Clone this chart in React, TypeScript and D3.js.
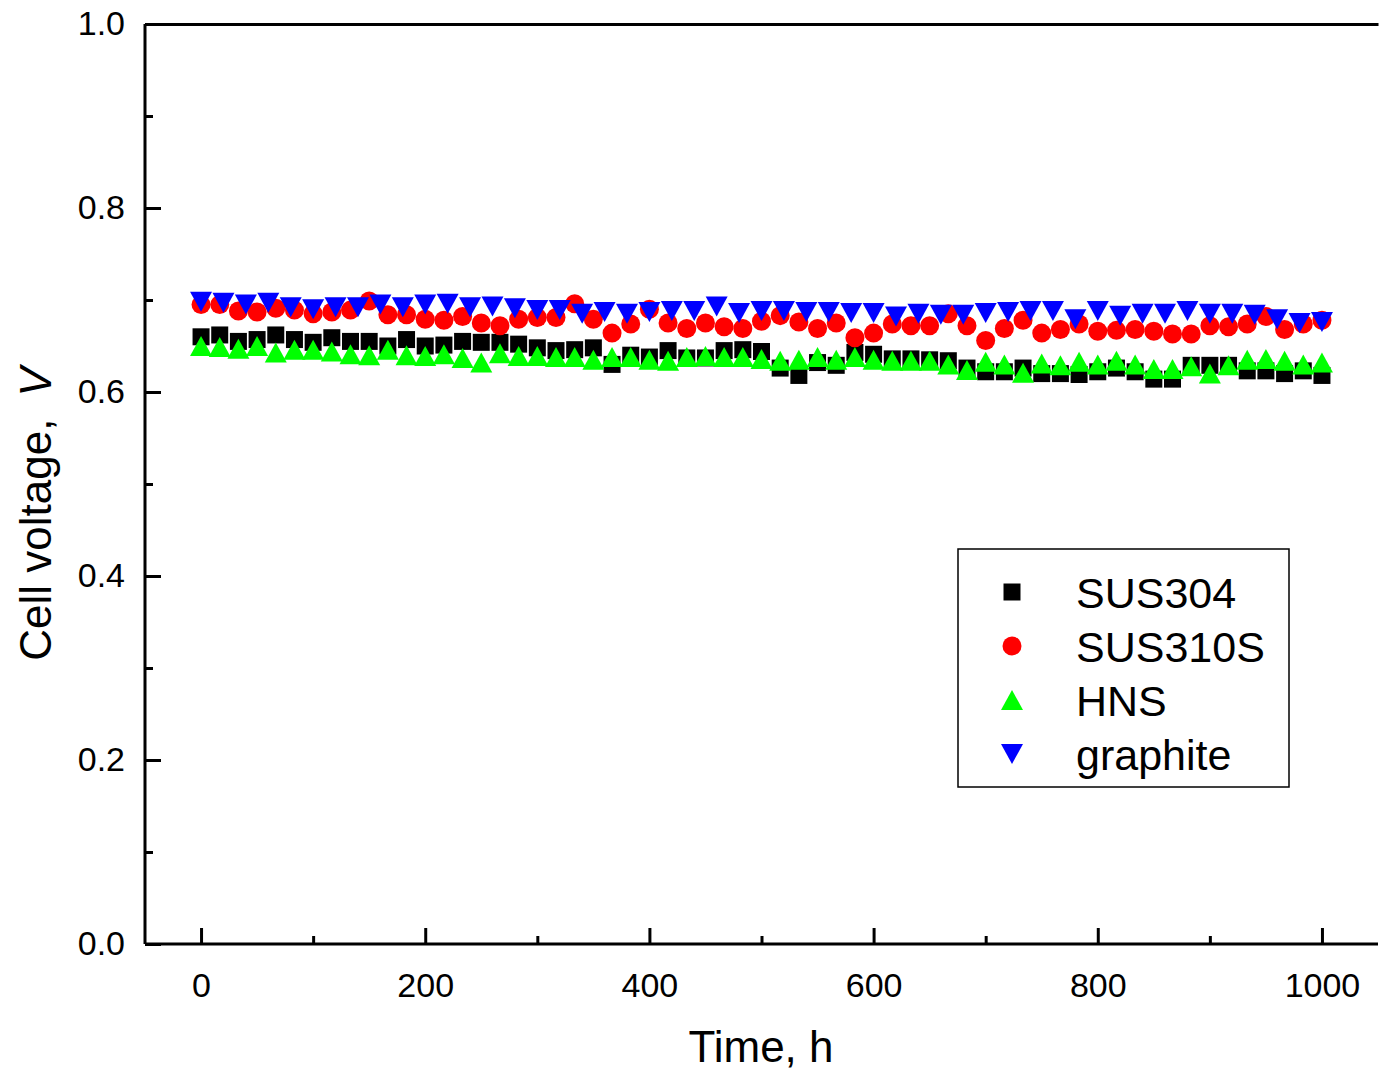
import React, { useEffect, useRef } from "react";
import * as d3 from "d3";

const seriesNames = ["SUS304", "SUS310S", "HNS", "graphite"];
const seriesColors = ["#000000", "#ff0000", "#00ff00", "#0000ff"];

// SUS304, SUS310S, HNS sampled every 1000/60 h; graphite every 20 h
const sus304 = [0.660, 0.662, 0.655, 0.657, 0.662, 0.657, 0.654, 0.659, 0.655, 0.655, 0.650, 0.657, 0.650, 0.651, 0.655, 0.654, 0.654, 0.652, 0.648, 0.645, 0.646, 0.648, 0.630, 0.640, 0.638, 0.645, 0.637, 0.637, 0.645, 0.646, 0.644, 0.626, 0.618, 0.632, 0.629, 0.643, 0.641, 0.636, 0.636, 0.635, 0.634, 0.626, 0.622, 0.622, 0.626, 0.620, 0.620, 0.619, 0.622, 0.626, 0.622, 0.614, 0.614, 0.629, 0.629, 0.629, 0.623, 0.623, 0.620, 0.623, 0.618];
const sus310s = [0.695, 0.695, 0.688, 0.687, 0.691, 0.689, 0.685, 0.687, 0.689, 0.699, 0.684, 0.684, 0.679, 0.678, 0.682, 0.675, 0.672, 0.679, 0.681, 0.681, 0.696, 0.679, 0.664, 0.674, 0.690, 0.675, 0.669, 0.675, 0.671, 0.669, 0.677, 0.683, 0.676, 0.669, 0.675, 0.659, 0.664, 0.674, 0.672, 0.672, 0.685, 0.672, 0.656, 0.669, 0.678, 0.664, 0.668, 0.674, 0.666, 0.667, 0.668, 0.666, 0.663, 0.663, 0.672, 0.671, 0.674, 0.682, 0.668, 0.674, 0.678];
const hns = [0.650, 0.649, 0.647, 0.650, 0.643, 0.646, 0.646, 0.644, 0.641, 0.640, 0.646, 0.640, 0.639, 0.641, 0.637, 0.632, 0.642, 0.639, 0.639, 0.638, 0.638, 0.635, 0.638, 0.638, 0.635, 0.634, 0.638, 0.639, 0.638, 0.638, 0.636, 0.634, 0.635, 0.638, 0.635, 0.638, 0.635, 0.634, 0.634, 0.634, 0.630, 0.624, 0.633, 0.630, 0.621, 0.631, 0.629, 0.633, 0.630, 0.634, 0.630, 0.625, 0.625, 0.628, 0.620, 0.629, 0.635, 0.636, 0.634, 0.630, 0.632];
const graphite = [0.698, 0.697, 0.695, 0.697, 0.692, 0.690, 0.692, 0.692, 0.695, 0.692, 0.695, 0.696, 0.692, 0.693, 0.691, 0.689, 0.689, 0.685, 0.687, 0.685, 0.687, 0.688, 0.688, 0.693, 0.686, 0.688, 0.688, 0.687, 0.687, 0.686, 0.686, 0.682, 0.685, 0.684, 0.684, 0.686, 0.687, 0.688, 0.688, 0.679, 0.688, 0.683, 0.685, 0.685, 0.688, 0.685, 0.685, 0.684, 0.679, 0.675, 0.676];

const timesA = sus304.map((_, i) => (i * 1000) / 60);
const timesB = graphite.map((_, i) => i * 20);

const xTicks = [0, 200, 400, 600, 800, 1000];
const xMinorTicks = [100, 300, 500, 700, 900];
const yTicks = [0, 0.2, 0.4, 0.6, 0.8, 1.0];
const yMinorTicks = [0.1, 0.3, 0.5, 0.7, 0.9];

const FONT = "'Liberation Sans', Arial, sans-serif";

function markerPath(kind: string, cx: number, cy: number): string {
  if (kind === "square") {
    const h = 8.5;
    return `M${cx - h},${cy - h}H${cx + h}V${cy + h}H${cx - h}Z`;
  }
  if (kind === "circle") {
    const r = 9.5;
    return `M${cx - r},${cy}A${r},${r} 0 1,0 ${cx + r},${cy}A${r},${r} 0 1,0 ${cx - r},${cy}Z`;
  }
  const w = 11, h = 10;
  if (kind === "up") {
    return `M${cx},${cy - h}L${cx + w},${cy + h}L${cx - w},${cy + h}Z`;
  }
  return `M${cx},${cy + h}L${cx + w},${cy - h}L${cx - w},${cy - h}Z`;
}

export default function App() {
  const ref = useRef<SVGSVGElement>(null);

  useEffect(() => {
    const svg = d3.select(ref.current);
    svg.selectAll("*").remove();

    const left = 145, right = 1378, top = 24, bottom = 944;
    const x = d3.scaleLinear().domain([-50, 1050]).range([left, right]);
    const y = d3.scaleLinear().domain([0, 1]).range([bottom, top]);

    const series = [
      { name: seriesNames[0], color: seriesColors[0], kind: "square", t: timesA, v: sus304 },
      { name: seriesNames[1], color: seriesColors[1], kind: "circle", t: timesA, v: sus310s },
      { name: seriesNames[2], color: seriesColors[2], kind: "up", t: timesA, v: hns },
      { name: seriesNames[3], color: seriesColors[3], kind: "down", t: timesB, v: graphite },
    ];

    // data markers
    series.forEach((s) => {
      svg.append("g")
        .selectAll("path")
        .data(s.v.map((v, i) => ({ t: s.t[i], v })))
        .join("path")
        .attr("d", (d) => markerPath(s.kind, x(d.t), y(d.v)))
        .attr("fill", s.color);
    });

    // axes
    const xAxis = svg.append("g").attr("transform", `translate(0,${bottom})`)
      .call(d3.axisBottom(x).tickValues(xTicks).tickSize(-16).tickPadding(29).tickFormat(d3.format("d")));
    svg.append("g").attr("class", "minor").attr("transform", `translate(0,${bottom})`)
      .call(d3.axisBottom(x).tickValues(xMinorTicks).tickSize(-8).tickFormat(() => ""));
    const yAxis = svg.append("g").attr("transform", `translate(${left},0)`)
      .call(d3.axisLeft(y).tickValues(yTicks).tickSize(-16).tickPadding(20).tickFormat(d3.format(".1f")));
    svg.append("g").attr("class", "minor").attr("transform", `translate(${left},0)`)
      .call(d3.axisLeft(y).tickValues(yMinorTicks).tickSize(-8).tickFormat(() => ""));
    // top line
    svg.append("g").attr("transform", `translate(0,${top})`)
      .call(d3.axisTop(x).tickValues([]).tickSizeOuter(0));

    svg.selectAll(".domain").attr("stroke", "#000").attr("stroke-width", 3);
    svg.selectAll(".minor .domain").remove();
    svg.selectAll(".tick line").attr("stroke", "#000").attr("stroke-width", 3);
    svg.selectAll(".tick text").attr("font-family", FONT).attr("font-size", 34).attr("fill", "#000");
    xAxis.select(".domain").attr("d", `M${left},0H${right}`);
    yAxis.select(".domain").attr("d", `M0,${top}V${bottom}`);

    // axis titles
    svg.append("text")
      .attr("x", 761).attr("y", 1062)
      .attr("text-anchor", "middle")
      .attr("font-family", FONT).attr("font-size", 44)
      .text("Time, h");

    const yt = svg.append("text")
      .attr("transform", "translate(51,514) rotate(-90)")
      .attr("text-anchor", "middle")
      .attr("font-family", FONT).attr("font-size", 44);
    yt.append("tspan").text("Cell voltage,");
    yt.append("tspan").attr("dx", 22).attr("font-style", "italic").text("V");

    // legend
    const lg = svg.append("g");
    lg.append("rect").attr("x", 958).attr("y", 549).attr("width", 331).attr("height", 238)
      .attr("fill", "#fff").attr("stroke", "#000").attr("stroke-width", 1.5);
    series.forEach((s, i) => {
      const cy = 592 + i * 54;
      lg.append("path").attr("d", markerPath(s.kind, 1012, cy)).attr("fill", s.color);
      lg.append("text").attr("x", 1076).attr("y", cy + 16)
        .attr("font-family", FONT).attr("font-size", 43).text(s.name);
    });
  }, []);

  return (
    <svg
      ref={ref}
      width={1383}
      height={1081}
      style={{ position: "absolute", left: 0, top: 0, background: "#fff" }}
    />
  );
}
